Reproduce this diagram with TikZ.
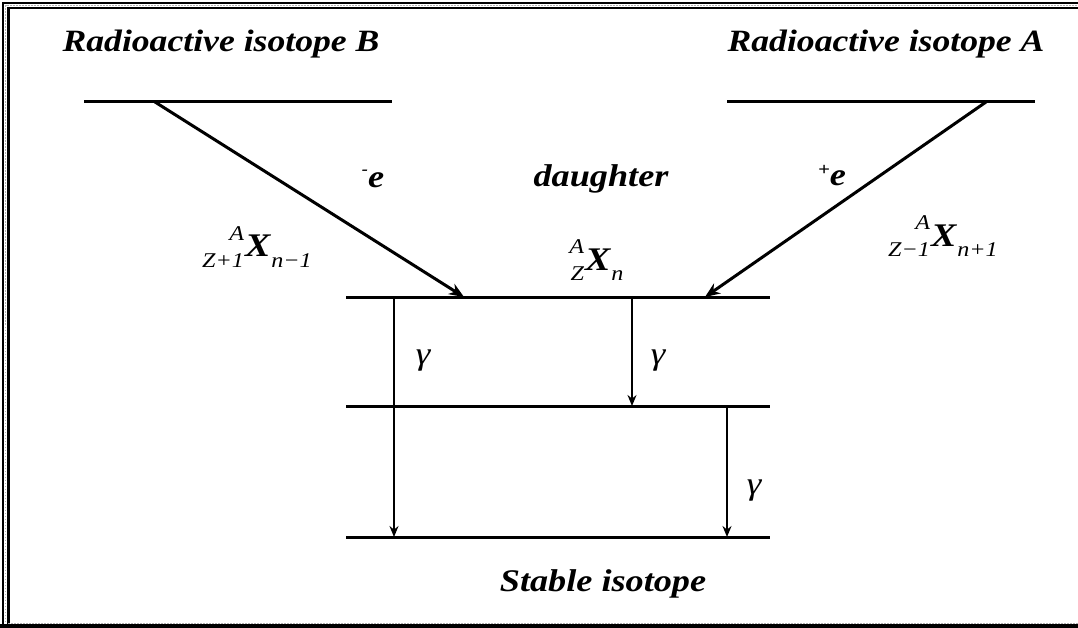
\documentclass[tikz,border=0pt]{standalone}
\usepackage{fontspec}
\setmainfont{Liberation Serif}
\newfontfamily\widefont[FakeStretch=1.15]{Liberation Serif}
\usetikzlibrary{arrows.meta}
\newcommand{\subfnt}{\fontsize{21}{21}\selectfont\itshape}
\newcommand{\isof}[3]{{\subfnt\phantom{#2}\llap{\raisebox{17pt}{#1}}\llap{\raisebox{-10pt}{#2}}}\kern1pt{\fontsize{33}{33}\selectfont\bfseries\itshape X}\kern1pt{\subfnt\raisebox{-10pt}{#3}}}
\begin{document}
\begin{tikzpicture}[x=1pt,y=-1pt,
  level/.style={line width=3pt},
  decay/.style={line width=3pt,-{Stealth[length=15pt,width=12pt]}},
  gam/.style={line width=1.6pt,-{Stealth[length=11pt,width=9pt]}},
  title/.style={font=\widefont\fontsize{31}{34}\selectfont\bfseries\itshape,inner sep=0pt,anchor=base},
  lab/.style={font=\widefont\fontsize{31.5}{34}\selectfont\bfseries\itshape,inner sep=0pt,anchor=base},
  glab/.style={font=\widefont\fontsize{32}{36}\selectfont\itshape,inner sep=0pt,anchor=base},
  iso/.style={font=\widefont,inner sep=0pt,anchor=base},
  frameblack/.style={line width=2.6pt,black},
  framegrey/.style={line width=1pt,gray!60,dash pattern=on 1.5pt off 1.5pt}]
\useasboundingbox (0,0) rectangle (1078,628);
% frame
\draw[frameblack] (3,628) -- (3,3) -- (1078,3);
\draw[framegrey] (5.6,628) -- (5.6,5.6) -- (1078,5.6);
\draw[frameblack] (8.2,628) -- (8.2,8.2) -- (1078,8.2);
\draw[line width=4pt] (0,626) -- (1078,626);
\draw[framegrey] (8,623.2) -- (1078,623.2);
% level endpoints
\coordinate (bl) at (84,102);  \coordinate (br) at (392,102);
\coordinate (al) at (727,102); \coordinate (ar) at (1035,102);
\coordinate (dl) at (346,297); \coordinate (dr) at (770,297);
\coordinate (ml) at (346,406); \coordinate (mr) at (770,406);
\coordinate (sl) at (346,537); \coordinate (sr) at (770,537);
% decay endpoints
\coordinate (bs) at (155,102); \coordinate (be) at (464,297);
\coordinate (as) at (986,102); \coordinate (ae) at (705,297);
\coordinate (g1s) at (394,297); \coordinate (g1e) at (394,537);
\coordinate (g2s) at (632,297); \coordinate (g2e) at (632,406);
\coordinate (g3s) at (727,406); \coordinate (g3e) at (727,537);
% levels
\draw[level] (bl) -- (br);
\draw[level] (al) -- (ar);
\draw[level] (dl) -- (dr);
\draw[level] (ml) -- (mr);
\draw[level] (sl) -- (sr);
% arrows
\draw[decay] (bs) -- (be);
\draw[decay] (as) -- (ae);
\draw[gam] (g1s) -- (g1e);
\draw[gam] (g2s) -- (g2e);
\draw[gam] (g3s) -- (g3e);
% labels
\node[title] (tB) at (221,52) {Radioactive isotope B};
\node[title] (tA) at (886,52) {Radioactive isotope A};
\node[lab] (em) at (373,188) {\raisebox{0.42em}{\fontsize{16}{16}\selectfont -}e};
\node[lab] (ep) at (832,186) {\raisebox{0.32em}{\fontsize{18}{18}\selectfont +}e};
\node[lab] (dau) at (601,187) {daughter};
\node[iso] (xb) at (257,257) {\isof{A}{Z+1}{n−1}};
\node[iso] (xd) at (597,270) {\isof{A}{Z}{n}};
\node[iso] (xa) at (943,247) {\isof{A}{Z−1}{n+1}};
\node[glab] (gam1) at (423,364) {γ};
\node[glab] (gam2) at (658,364) {γ};
\node[glab] (gam3) at (754,494) {γ};
\node[lab] (st) at (603,591) {Stable isotope};
\end{tikzpicture}
\end{document}
